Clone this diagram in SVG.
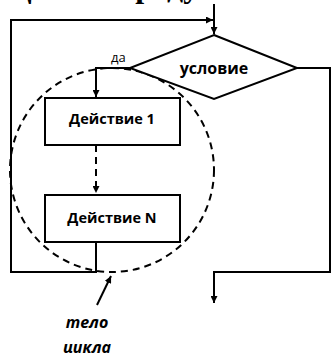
<svg xmlns="http://www.w3.org/2000/svg" width="331" height="353" viewBox="0 0 331 353">
  <defs>
    <marker id="arr" viewBox="0 0 10 10" refX="10" refY="5" markerWidth="7" markerHeight="7" markerUnits="userSpaceOnUse" orient="auto">
      <path d="M0,0 L10,5 L0,10 z" fill="#000"/>
    </marker>
  </defs>
  <style>
    .ln { fill: none; stroke: #000; stroke-width: 2; }
    .dash { fill: none; stroke: #000; stroke-width: 2; stroke-dasharray: 7 5; }
    .shape { fill: #fff; stroke: #000; stroke-width: 2; }
    .lbl { font-family: "Open Sans", "Liberation Sans", sans-serif; font-weight: 700; font-size: 14.5px; text-anchor: middle; }
    .cond { font-size: 16px; }
    .yes { font-family: "Open Sans", "Liberation Sans", sans-serif; font-size: 13px; }
    .note { font-family: "Open Sans", "Liberation Sans", sans-serif; font-weight: 700; font-style: italic; font-size: 16px; text-anchor: middle; }
    .title { font-family: "Liberation Serif", serif; font-weight: 700; font-size: 32px; }
  </style>
  <rect width="331" height="353" fill="#fff"/>

  <text class="title" x="7" y="-3">Цикл с предусловием</text>

  <!-- loop body boundary -->
  <circle class="dash" cx="112" cy="170" r="102"/>

  <g id="connectors">
    <!-- entry -->
    <path class="ln" d="M214,4 V34" marker-end="url(#arr)"/>
    <!-- yes branch -->
    <path class="ln" d="M130,68 H96 V97" marker-end="url(#arr)"/>
    <!-- between actions -->
    <path class="dash" d="M96,145 V193" marker-end="url(#arr)"/>
    <!-- loop back -->
    <path class="ln" d="M96,242 V272 H11 V20 H213" marker-end="url(#arr)"/>
    <!-- exit -->
    <path class="ln" d="M297,68 H330 V272 H214 V303" marker-end="url(#arr)"/>
    <!-- note pointer -->
    <path class="ln" d="M97,305 L111,276" marker-end="url(#arr)"/>
  </g>

  <g id="cond">
    <path class="shape" d="M214,35 L297,68 L214,99 L130,68 z"/>
    <text class="lbl cond" x="214" y="74">условие</text>
  </g>
  <text class="yes" x="111" y="62">да</text>

  <g id="act1">
    <rect class="shape" x="45" y="98" width="135" height="47"/>
    <text class="lbl" x="112" y="124">Действие 1</text>
  </g>

  <g id="actN">
    <rect class="shape" x="45" y="195" width="135" height="47"/>
    <text class="lbl" x="112" y="223">Действие N</text>
  </g>

  <g id="note">
    <text class="note" x="87" y="328">тело</text>
    <text class="note" x="87" y="353">цикла</text>
  </g>
</svg>
